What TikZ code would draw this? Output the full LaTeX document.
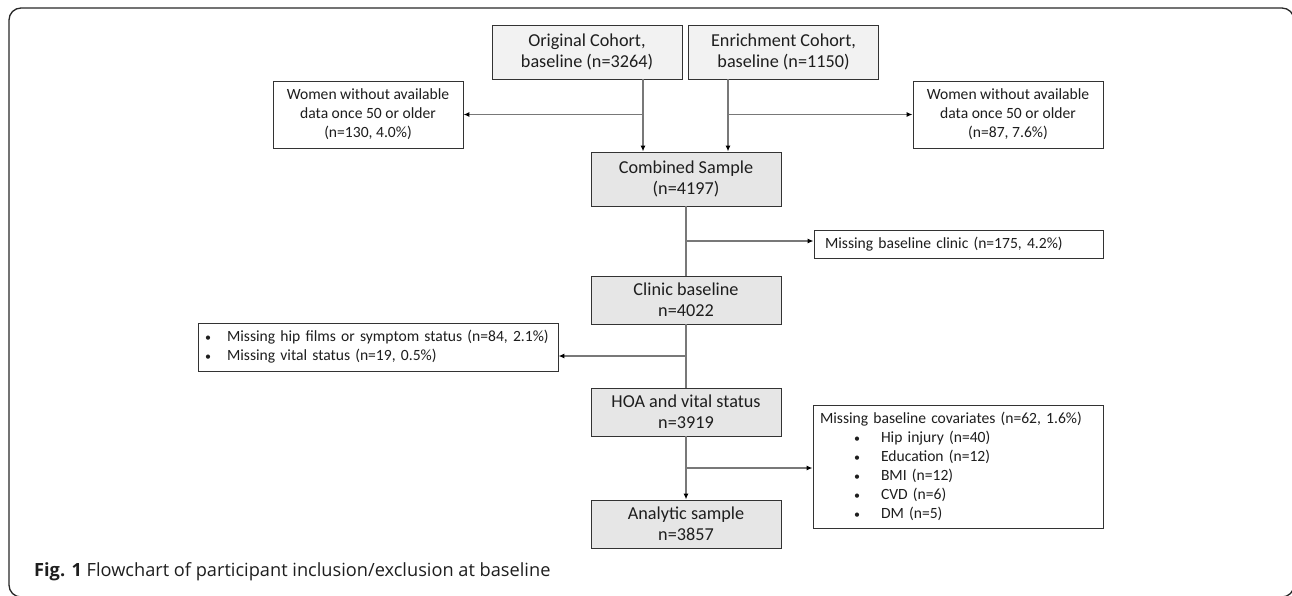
\documentclass[tikz,border=0pt]{standalone}
\usepackage{fontspec}
\setmainfont{Carlito}
\newfontfamily\capfont{Open Sans}
\usepackage{xcolor}
\usepackage{tikz}
\usetikzlibrary{arrows.meta, positioning, calc}
\definecolor{FCTopFill}{RGB}{242, 242, 242}
\definecolor{FCMainFill}{RGB}{230, 230, 230}
\definecolor{FCBorder}{RGB}{51, 51, 51}
\definecolor{FCLine}{RGB}{120, 120, 120}
\definecolor{FCFrame}{RGB}{40, 40, 40}
\definecolor{FCText}{RGB}{30, 30, 30}
\newcommand{\fcbullet}{{\fontsize{12}{12}\selectfont\textbullet}}

\tikzset{
  cohortbox/.style={
    draw=FCBorder, fill=FCTopFill, line width=0.9pt, text=FCText,
    minimum width=190pt, minimum height=54pt, inner sep=0pt, align=center,
    font=\fontsize{18.2}{21}\selectfont
  },
  samplebox/.style={cohortbox, fill=FCMainFill, minimum height=48pt},
  dropbox/.style={
    draw=FCBorder, fill=white, line width=0.9pt, text=FCText,
    inner sep=0pt, align=center, font=\fontsize{15.6}{19}\selectfont
  },
  listbox/.style={dropbox, align=left, inner xsep=7pt},
  flowline/.style={draw=FCLine, line width=1.3pt},
  flowarrow/.style={flowline, -{Latex[length=6pt, width=5pt, color=black]}}
}

\begin{document}
\begin{tikzpicture}[x=1pt, y=-1pt]
    \useasboundingbox (0,0) rectangle (1292,595);
    \draw[FCFrame, line width=1.3pt, rounded corners=12pt] (9,8) rectangle (1294,597);

    \node[cohortbox] (orig) at (587,52) {Original Cohort,\\baseline (n=3264)};
    \node[cohortbox] (enrich) at (783.5,52) {Enrichment Cohort,\\baseline (n=1150)};
    \node[dropbox, minimum width=190pt, minimum height=67pt] (dropL) at (368,114.5)
      {Women without available\\data once 50 or older\\(n=130, 4.0\%)};
    \node[dropbox, minimum width=190pt, minimum height=67pt] (dropR) at (1008,114.5)
      {Women without available\\data once 50 or older\\(n=87, 7.6\%)};

    \node[samplebox, minimum height=54pt] (comb) at (686,179) {Combined Sample\\(n=4197)};
    \node[listbox, minimum width=289pt, minimum height=28pt, inner xsep=11pt, text width=267pt] (dropClinic) at (958.5,244)
      {Missing baseline clinic (n=175, 4.2\%)};
    \node[samplebox] (clinic) at (686,300) {Clinic baseline\\n=4022};
    \node[listbox, minimum width=360pt, minimum height=48pt, text width=346pt] (dropHip) at (378,347)
      {\makebox[22pt][l]{\fcbullet}Missing hip films or symptom status (n=84, 2.1\%)\\
       \makebox[22pt][l]{\fcbullet}Missing vital status (n=19, 0.5\%)};
    \node[samplebox] (hoa) at (686,412) {HOA and vital status\\n=3919};
    \node[listbox, minimum width=290pt, minimum height=123pt, text width=276pt] (dropCov) at (958,466.5)
      {Missing baseline covariates (n=62, 1.6\%)\\
       \hspace*{34pt}\makebox[27pt][l]{\fcbullet}Hip injury (n=40)\\
       \hspace*{34pt}\makebox[27pt][l]{\fcbullet}Education (n=12)\\
       \hspace*{34pt}\makebox[27pt][l]{\fcbullet}BMI (n=12)\\
       \hspace*{34pt}\makebox[27pt][l]{\fcbullet}CVD (n=6)\\
       \hspace*{34pt}\makebox[27pt][l]{\fcbullet}DM (n=5)};
    \node[samplebox] (analytic) at (686,524) {Analytic sample\\n=3857};

    \node[anchor=base west, inner sep=0pt, text=FCText, font=\capfont\fontsize{18.2}{21}\selectfont] (caption) at (34,576)
      {\textbf{Fig. 1} Flowchart of participant inclusion/exclusion at baseline};

    \coordinate (origIn) at ([xshift=-43pt]comb.north);
    \coordinate (enrichIn) at ([xshift=42pt]comb.north);
    \coordinate (splitA) at ($(comb.south)!0.5!(clinic.north)$);
    \coordinate (splitB) at ($(clinic.south)!0.5!(hoa.north)$);
    \coordinate (splitC) at ($(hoa.south)!0.5!(analytic.north)$);

    \draw[flowarrow] (orig.south -| origIn) -- (origIn);
    \draw[flowarrow] (enrich.south -| enrichIn) -- (enrichIn);
    \draw[flowarrow] (origIn |- dropL.east) -- (dropL.east);
    \draw[flowarrow] (enrichIn |- dropR.west) -- (dropR.west);

    \draw[flowline] (comb.south) -- (clinic.north);
    \draw[flowline] (clinic.south) -- (hoa.north);
    \draw[flowarrow] (hoa.south) -- (analytic.north);
    \draw[flowarrow] (splitA -| comb.south) -- (splitA -| dropClinic.west);
    \draw[flowarrow] (splitB) -- (splitB -| dropHip.east);
    \draw[flowarrow] (splitC) -- (splitC -| dropCov.west);
\end{tikzpicture}
\end{document}
